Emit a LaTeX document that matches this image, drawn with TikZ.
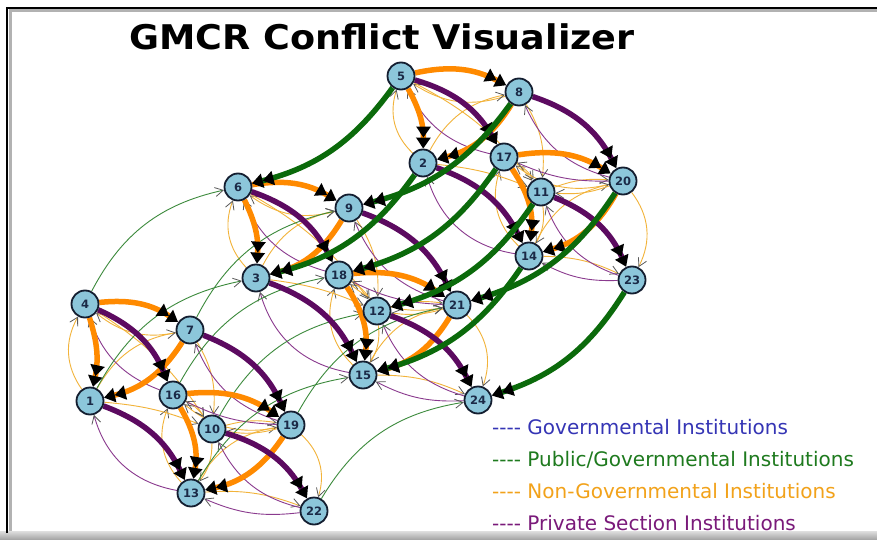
\documentclass[tikz,border=0pt]{standalone}
\usepackage{fontspec}
\setmainfont{DejaVu Sans}
\usetikzlibrary{arrows.meta}
\pgfdeclarelayer{bg}
\pgfsetlayers{bg,main}
\definecolor{nodefill}{HTML}{8CC6DA}
\definecolor{nodeline}{HTML}{141E30}
\definecolor{labcol}{HTML}{1B2A47}
\definecolor{thkor}{HTML}{FF8A00}
\definecolor{thnor}{HTML}{F2B33A}
\definecolor{thkpu}{HTML}{5C0A60}
\definecolor{thnpu}{HTML}{8A3A8E}
\definecolor{thkgr}{HTML}{0B6A0B}
\definecolor{thngr}{HTML}{3C8A3C}
\definecolor{legblue}{HTML}{3535B5}
\definecolor{leggreen}{HTML}{1E7A1E}
\definecolor{legorange}{HTML}{F2A21A}
\definecolor{legpurple}{HTML}{7A1A7A}
\begin{document}
\begin{tikzpicture}[x=1pt,y=1pt,
  st/.style={circle,draw=nodeline,line width=1.8pt,fill=nodefill,minimum size=27pt,inner sep=0pt,
     font=\bfseries\fontsize{11.5}{11.5}\selectfont,text=labcol},
  bigtip/.style={-{Triangle[length=11pt,width=14pt,color=black]Triangle[length=11pt,width=14pt,color=black]}},
  smtip/.style={-{Straight Barb[length=8pt,width=9pt,line width=0.8pt,color=black!65]}},
  bigor/.style={bigtip,draw=thkor,line width=5.5pt},
  bigpu/.style={bigtip,draw=thkpu,line width=5.5pt},
  biggr/.style={bigtip,draw=thkgr,line width=5.5pt},
  smor/.style={smtip,draw=thnor,line width=0.9pt},
  smpu/.style={smtip,draw=thnpu,line width=0.9pt},
  smgr/.style={smtip,draw=thngr,line width=0.9pt},
  legtext/.style={anchor=base west,inner sep=0pt,font=\fontsize{20}{20}\selectfont}
]
\useasboundingbox (0,0) rectangle (877,-540);
% nodes
\foreach \n/\x/\y in {4/85/304,7/190/330,1/90/401,16/173/395,10/212/429,19/291/425,13/191/493,22/314/511,
  6/238/187,9/349/208,3/256/278,18/339/275,12/377/311,21/457/305,15/363/375,24/478/400,
  5/401/76,8/519/92,2/423/163,17/504/157,11/541/192,20/623/181,14/529/256,23/632/280}
  \node[st] (n\n) at (\x,-\y) {\n};
\begin{pgfonlayer}{bg}
\fill[white] (0,0) rectangle (877,-540);
\shade[top color=gray!25,bottom color=gray!75] (0,-531) rectangle (877,-540);
\draw[gray!60,line width=3pt] (10,-531) -- (10,-11) -- (877,-11);
\draw[black,line width=2.6pt] (7,-533) -- (7,-8) -- (877,-8);
% thin edges inside each cube
\foreach \va/\vb/\vc/\vd/\ve/\vf/\vg/\vh in {4/7/1/16/10/19/13/22,6/9/3/18/12/21/15/24,5/8/2/17/11/20/14/23}{
  \foreach \p/\q/\ang in {\vb/\va/25,\vc/\va/32,\vc/\vb/25,\vf/\vd/25,\vg/\vd/32,\vg/\vf/25,
      \va/\ve/12,\vb/\ve/18,\vc/\ve/8,\vd/\ve/15,\ve/\vf/12,\vf/\ve/12,\ve/\vg/18,\vf/\vh/32,\vg/\vh/12}
    \draw[smor] (n\p) to[bend left=\ang] (n\q);
  \foreach \p/\q/\ang in {\vd/\va/25,\vf/\vb/25,\vg/\vc/32,\vh/\ve/25,\vh/\vg/15,\vf/\vd/12}
    \draw[smpu] (n\p) to[bend left=\ang] (n\q);
}
% thin green A -> B
\foreach \p/\q in {4/6,7/9,1/3,16/18,10/12,19/21,13/15,22/24}
  \draw[smgr] (n\p) to[bend left=25] (n\q);
% thick edges inside each cube
\foreach \va/\vb/\vc/\vd/\ve/\vf/\vg/\vh in {4/7/1/16/10/19/13/22,6/9/3/18/12/21/15/24,5/8/2/17/11/20/14/23}{
  \foreach \p/\q/\ang in {\va/\vb/20,\va/\vc/15,\vb/\vc/22,\vd/\vf/20,\vd/\vg/20,\vf/\vg/22}
    \draw[bigor] (n\p) to[bend left=\ang] (n\q);
  \foreach \p/\q in {\va/\vd,\vb/\vf,\vc/\vg,\ve/\vh}
    \draw[bigpu] (n\p) to[bend left=22] (n\q);
}
% thick green C -> B
\foreach \p/\q in {5/6,8/9,2/3,17/18,11/12,20/21,14/15,23/24}
  \draw[biggr] (n\p) to[bend left=20] (n\q);
\end{pgfonlayer}
% title
\node[anchor=base,inner sep=0pt,font=\bfseries\fontsize{34}{36}\selectfont] (title) at (382,-50) {\scalebox{1.075}[1]{GMCR Conflict Visualizer}};
% legend
\node[legtext,text=legblue] (lg1) at (492,-434) {-{}-{}-{}- Governmental Institutions};
\node[legtext,text=leggreen] (lg2) at (492,-466) {-{}-{}-{}- Public/Governmental Institutions};
\node[legtext,text=legorange] (lg3) at (492,-498) {-{}-{}-{}- Non-Governmental Institutions};
\node[legtext,text=legpurple] (lg4) at (492,-530) {-{}-{}-{}- Private Section Institutions};
\end{tikzpicture}
\end{document}
